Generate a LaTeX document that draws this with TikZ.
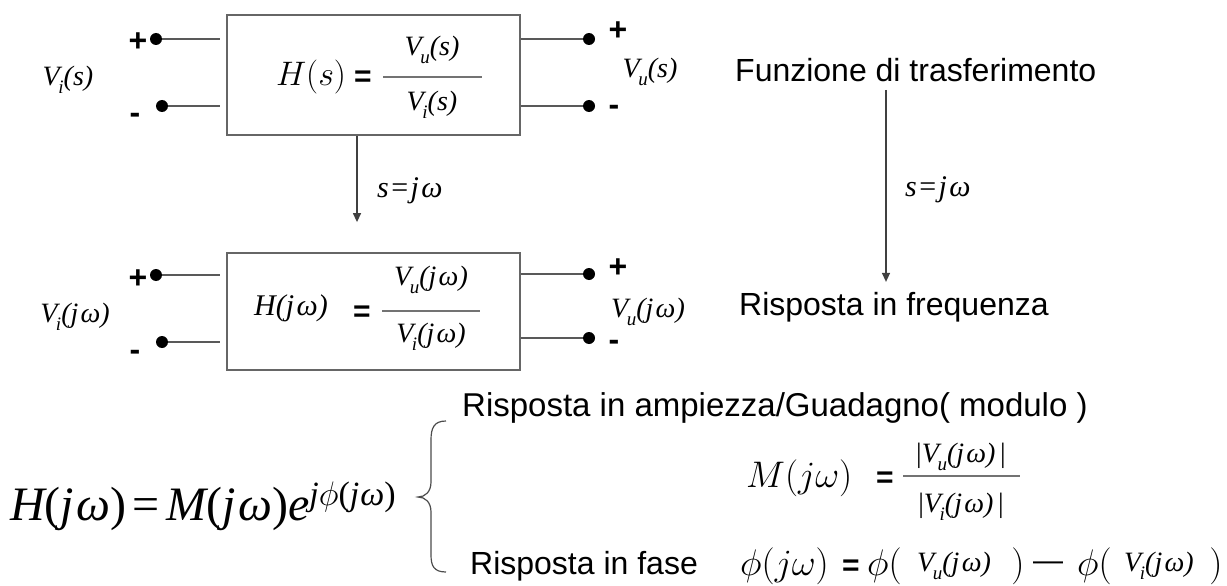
\RequirePackage{fix-cm}
\documentclass[tikz,border=0pt]{standalone}
\usepackage[no-math]{fontspec}
\setmainfont{Liberation Sans}
\newfontfamily\tms{Liberation Serif}
\usetikzlibrary{arrows.meta,calc}
\newcommand{\ti}[1]{{\tms\itshape #1}}
\newcommand{\tr}[1]{{\tms #1}}
\newcommand{\sz}[1]{\fontsize{#1}{#1}\selectfont}
\newcommand{\Vx}[2]{\ti{V}\kern-0.05em\raisebox{-0.28em}{\sz{19}\ti{#1}}\ti{#2}}
\begin{document}
\begin{tikzpicture}[x=1pt,y=-1pt,
  wire/.style={draw=black!65, line width=1.4pt},
  blk/.style={draw=black!60, line width=1.8pt, inner sep=0, minimum width=293pt},
  term/.style={circle, fill=black, inner sep=0, minimum size=12pt},
  sgn/.style={font=\sz{32}\bfseries, inner sep=0},
  lab/.style={font=\sz{28}, inner sep=0},
  txt/.style={font=\sz{32}, inner sep=0, anchor=west},
  eqs/.style={font=\sz{30}\bfseries, inner sep=0},
  mth/.style={font=\sz{34}, inner sep=0},
  mbig/.style={font=\sz{37}, inner sep=0},
  arr/.style={draw=black!75, line width=1.3pt, -{Triangle[length=9pt,width=8pt]}},
  fbar/.style={draw=black!55, line width=1.8pt},
  brace/.style={draw=black!70, line width=1.2pt}]
\useasboundingbox (0,0) rectangle (1227,586);
% ---------- block 1
\node[blk, minimum height=120pt] (b1) at (373.5,75) {};
\node[term] (t1a) at (156,39) {};
\node[term] (t1b) at (162,106) {};
\node[term] (t1c) at (589,39) {};
\node[term] (t1d) at (589,106) {};
\draw[wire, shorten >=6pt] (t1a) -- (t1a -| b1.west);
\draw[wire, shorten >=6pt] (t1b) -- (t1b -| b1.west);
\draw[wire] (t1c -| b1.east) -- (t1c);
\draw[wire] (t1d -| b1.east) -- (t1d);
\node[sgn] (p1a) at (138,42) {+};
\node[sgn] (m1a) at (135,118) {-};
\node[sgn] (p1c) at (618,31) {+};
\node[sgn] (m1c) at (614,110) {-};
\node[lab] (vi1) at (68,80) {\Vx{i}{(s)}};
\node[lab] (vu1) at (650,72) {\Vx{u}{(s)}};
\node[mth] (h1) at (311,77) {$H(s)$};
\node[eqs] (e1) at (363,79) {=};
\draw[fbar] (383,77) -- (482,77);
\node[lab] (n1) at (432,50) {\Vx{u}{(s)}};
\node[lab] (d1) at (432,105) {\Vx{i}{(s)}};
% ---------- transition arrow
\coordinate (ax1) at (357,0);
\node[blk, minimum height=117pt] (b2) at (373.5,311.5) {};
\draw[arr, shorten >=30pt] (b1.south -| ax1) -- (b2.north -| ax1);
\node[lab, font=\sz{30}, anchor=west] (sj1) at (377,191) {\ti{s}\kern0.08em\tr{=}\kern0.08em\ti{j\kern0.08emω}};
% ---------- block 2
\node[term] (t2a) at (156,275) {};
\node[term] (t2b) at (162,342) {};
\node[term] (t2c) at (589,274) {};
\node[term] (t2d) at (589,338) {};
\draw[wire, shorten >=6pt] (t2a) -- (t2a -| b2.west);
\draw[wire, shorten >=6pt] (t2b) -- (t2b -| b2.west);
\draw[wire] (t2c -| b2.east) -- (t2c);
\draw[wire] (t2d -| b2.east) -- (t2d);
\node[sgn] (p2a) at (138,279) {+};
\node[sgn] (m2a) at (135,355) {-};
\node[sgn] (p2c) at (618,268) {+};
\node[sgn] (m2c) at (614,345) {-};
\node[lab] (vi2) at (75,317) {\Vx{i}{(j\kern0.08emω)}};
\node[lab] (vu2) at (648,312) {\Vx{u}{(j\kern0.08emω)}};
\node[lab, font=\sz{30}] (h2) at (291,308) {\ti{H}\ti{(j\kern0.08emω)}};
\node[eqs] (e2) at (362,314) {=};
\draw[fbar] (382,311) -- (480,311);
\node[lab] (n2) at (431,280) {\Vx{u}{(j\kern0.08emω)}};
\node[lab] (d2) at (431,337) {\Vx{i}{(j\kern0.08emω)}};
% ---------- right column
\node[txt] (fun) at (735,70) {Funzione di trasferimento};
\node[txt] (rif) at (739,307) {Risposta in frequenza};
\coordinate (ax2) at (886,0);
\draw[arr, shorten <=8pt, shorten >=10pt] (fun.south -| ax2) -- (rif.north -| ax2);
\node[lab, font=\sz{30}, anchor=west] (sj2) at (905,190) {\ti{s}\kern0.08em\tr{=}\kern0.08em\ti{j\kern0.08emω}};
% ---------- bottom
\node[anchor=base west, font=\sz{48}, inner sep=0] (hf) at (10,520)
  {\ti{H}\tr{(}\ti{j\kern0.05emω}\tr{)}\kern0.12em\tr{=}\kern0.15em\ti{M}\tr{(}\ti{j\kern0.05emω}\tr{)}\ti{e}\raisebox{0.3em}{\sz{34}\ti{j}$\phi$\tr{(}\ti{j\kern0.03emω}\tr{)}}};
\coordinate (bt) at (446,421);
\coordinate (bm) at (418,497);
\coordinate (bb) at (446,572);
\draw[brace] (bt) .. controls (434,421) and (431,428) .. (431,440) -- (431,482)
  .. controls (431,492) and (425,497) .. (bm)
  .. controls (425,497) and (431,502) .. (431,512) -- (431,555)
  .. controls (431,566) and (434,572) .. (bb);
\node[txt, font=\sz{33}] (amp) at (462,408) {Risposta in ampiezza/Guadagno( modulo )};
\node[txt] (fase) at (470,566) {Risposta in fase};
\node[mbig, anchor=west] (mj) at (746,478) {$M(j\omega)$};
\node[eqs] (e3) at (885,480) {=};
\draw[fbar] (903,476) -- (1020,476);
\node[lab] (n3) at (961,457) {\tr{|}\Vx{u}{(j\kern0.08emω)}\tr{\,|}};
\node[lab] (d3) at (961,507) {\tr{|}\Vx{i}{(j\kern0.08emω)}\tr{\,|}};
% phase line
\node[mbig, anchor=west] (ph1) at (740,566) {$\phi(j\omega)$};
\node[eqs] (e4) at (851,568) {=};
\node[mbig, anchor=west] (ph2) at (867,566) {$\phi($};
\node[lab, anchor=west] (vu3) at (917,566) {\Vx{u}{(j\kern0.08emω)}};
\node[mbig] (cl1) at (1018,566) {$)$};
\node[font=\sz{30}, inner sep=0] (dash) at (1048,566) {---};
\node[mbig, anchor=west] (ph3) at (1077,566) {$\phi($};
\node[lab, anchor=west] (vi3) at (1124,566) {\Vx{i}{(j\kern0.08emω)}};
\node[mbig] (cl2) at (1216,566) {$)$};
\end{tikzpicture}
\end{document}
